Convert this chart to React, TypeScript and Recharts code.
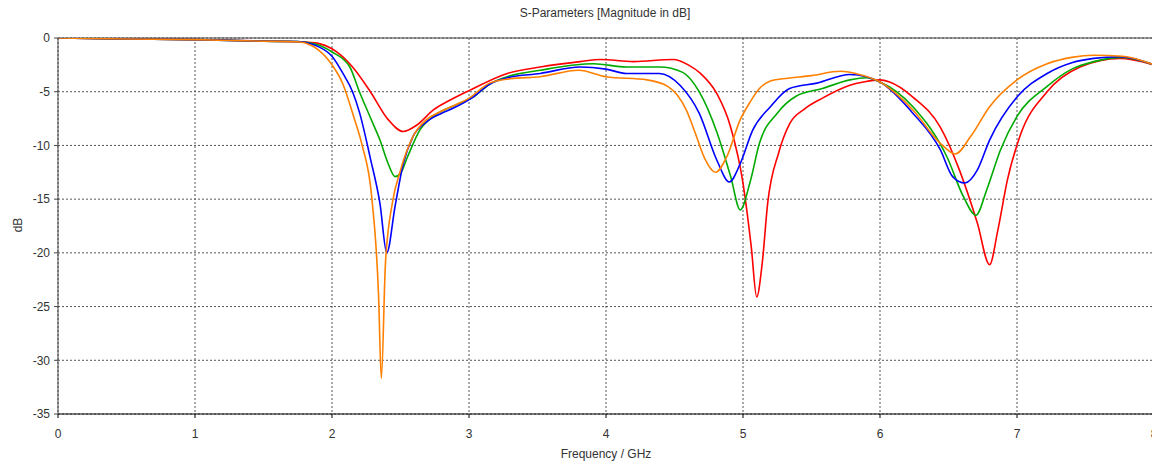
import React from "react";
import { LineChart, Line, XAxis, YAxis, CartesianGrid, ReferenceLine } from "recharts";

const xTicks = [0, 1, 2, 3, 4, 5, 6, 7, 8];
const yTicks = [0, -5, -10, -15, -20, -25, -30, -35];

const orangeF = [0, 0.5, 1.0, 1.5, 1.75, 1.85, 1.9, 2.0, 2.08, 2.16, 2.22, 2.29, 2.34, 2.36, 2.39, 2.44, 2.5, 2.59, 2.69, 2.8, 3.0, 3.15, 3.3, 3.52, 3.8, 4.0, 4.3, 4.45, 4.52, 4.59, 4.65, 4.72, 4.8, 4.88, 4.98, 5.05, 5.12, 5.2, 5.29, 5.5, 5.71, 5.85, 6.0, 6.24, 6.44, 6.55, 6.66, 6.8, 7.0, 7.22, 7.4, 7.56, 7.77, 8.0];
const orangeDb = [0, -0.1, -0.15, -0.3, -0.35, -0.7, -1.1, -2.5, -4.3, -7.4, -10.0, -14.8, -24, -31.7, -21, -15.4, -12.3, -9.2, -7.6, -6.8, -5.6, -4.2, -3.8, -3.6, -3.0, -3.6, -3.9, -4.5, -5.3, -6.8, -8.8, -11.2, -12.5, -11.1, -7.6, -6.0, -4.7, -4.0, -3.8, -3.5, -3.1, -3.4, -4.1, -6.7, -9.8, -10.8, -9.2, -6.4, -3.9, -2.4, -1.8, -1.6, -1.7, -2.5];

const blueF = [0, 0.5, 1.0, 1.5, 1.75, 1.85, 1.9, 2.0, 2.08, 2.15, 2.2, 2.28, 2.35, 2.4, 2.46, 2.52, 2.59, 2.69, 2.8, 2.89, 3.03, 3.15, 3.28, 3.52, 3.81, 4.0, 4.15, 4.39, 4.54, 4.68, 4.81, 4.9, 4.98, 5.07, 5.2, 5.34, 5.54, 5.78, 5.9, 6.0, 6.24, 6.44, 6.53, 6.62, 6.71, 6.8, 7.0, 7.22, 7.4, 7.56, 7.75, 8.0];
const blueDb = [0, -0.1, -0.15, -0.3, -0.33, -0.55, -0.8, -1.7, -3.3, -5.0, -6.9, -11.2, -15.4, -20.0, -15.7, -11.7, -9.2, -7.8, -7.0, -6.5, -5.5, -4.3, -3.7, -3.3, -2.7, -2.9, -3.3, -3.3, -4.4, -7.0, -11.4, -13.4, -11.7, -8.6, -6.4, -4.7, -4.2, -3.4, -3.6, -4.1, -7.0, -10.4, -12.9, -13.5, -12.3, -9.5, -5.5, -3.3, -2.3, -1.9, -1.75, -2.5];

const greenF = [0, 0.5, 1.0, 1.5, 1.75, 1.85, 1.9, 2.0, 2.13, 2.2, 2.28, 2.35, 2.41, 2.46, 2.5, 2.55, 2.64, 2.74, 2.91, 3.03, 3.15, 3.28, 3.52, 3.91, 4.15, 4.39, 4.56, 4.68, 4.81, 4.91, 4.98, 5.05, 5.12, 5.25, 5.39, 5.58, 5.78, 5.9, 6.0, 6.24, 6.49, 6.61, 6.7, 6.78, 6.88, 7.0, 7.22, 7.4, 7.56, 7.77, 8.0];
const greenDb = [0, -0.1, -0.15, -0.3, -0.33, -0.5, -0.65, -1.3, -2.7, -5.0, -7.4, -9.5, -11.7, -12.9, -12.6, -11.1, -8.6, -7.3, -6.2, -5.5, -4.3, -3.6, -3.0, -2.4, -2.7, -2.7, -3.2, -5.0, -8.8, -12.9, -16.0, -13.5, -9.8, -7.0, -5.4, -4.7, -3.9, -3.7, -4.1, -6.4, -11.1, -14.8, -16.5, -14.1, -10.4, -7.3, -4.5, -2.9, -2.2, -1.8, -2.5];

const redF = [0, 0.5, 1.0, 1.5, 1.77, 1.9, 2.0, 2.15, 2.28, 2.41, 2.52, 2.62, 2.74, 2.86, 3.0, 3.28, 3.52, 3.81, 3.96, 4.2, 4.49, 4.6, 4.69, 4.81, 4.91, 5.0, 5.06, 5.1, 5.14, 5.18, 5.26, 5.34, 5.45, 5.58, 5.78, 5.88, 6.0, 6.07, 6.24, 6.44, 6.58, 6.71, 6.8, 6.86, 6.93, 7.02, 7.22, 7.46, 7.75, 8.0];
const redDb = [0, -0.1, -0.15, -0.28, -0.35, -0.5, -1.0, -2.7, -5.0, -7.6, -8.7, -8.1, -6.7, -5.8, -4.9, -3.3, -2.7, -2.2, -2.0, -2.2, -2.0, -2.5, -3.3, -5.2, -8.3, -13.5, -19.4, -24.1, -21, -15.4, -10.7, -8.0, -6.6, -5.6, -4.4, -4.1, -3.9, -4.1, -5.5, -8.3, -12.3, -17.2, -21.1, -17.9, -13.2, -9.2, -5.0, -2.7, -1.9, -2.5];

const toPts = (fs: number[], ds: number[]) => fs.map((f, i) => ({ f, db: ds[i] }));

const series = [
  { name: "red", color: "#ff0000", data: toPts(redF, redDb) },
  { name: "green", color: "#00aa00", data: toPts(greenF, greenDb) },
  { name: "blue", color: "#0000ff", data: toPts(blueF, blueDb) },
  { name: "orange", color: "#ff8000", data: toPts(orangeF, orangeDb) },
];

const font = "'Liberation Sans', Arial, sans-serif";

export default function App() {
  return (
    <div style={{ position: "absolute", left: 0, top: 0, width: 1152, height: 466, overflow: "hidden", background: "#fff", fontFamily: font }}>
      <LineChart width={1170} height={466} margin={{ top: 38, right: 16, bottom: 22, left: 0 }}>
        <CartesianGrid stroke="#555" strokeDasharray="2 2" />
        <XAxis
          type="number"
          dataKey="f"
          domain={[0, 8]}
          ticks={xTicks}
          allowDataOverflow
          height={30}
          tickSize={4}
          tickMargin={11}
          stroke="#000"
          tick={{ fill: "#333", fontSize: 12, fontFamily: font }}
        />
        <YAxis
          type="number"
          domain={[-35, 0]}
          ticks={yTicks}
          allowDataOverflow
          width={58}
          tickSize={4}
          tickMargin={4}
          stroke="#444"
          tick={{ fill: "#333", fontSize: 12, fontFamily: font }}
        />
        <ReferenceLine y={0} stroke="#444" strokeWidth={1} />
        {series.map((s) => (
          <Line
            key={s.name}
            data={s.data}
            dataKey="db"
            type="monotone"
            stroke={s.color}
            strokeWidth={1.6}
            dot={false}
            isAnimationActive={false}
          />
        ))}
      </LineChart>
      <div style={{ position: "absolute", left: 0, width: 1210, top: 6, textAlign: "center", fontSize: 12, color: "#333" }}>
        S-Parameters [Magnitude in dB]
      </div>
      <div style={{ position: "absolute", left: 0, width: 1212, top: 447, textAlign: "center", fontSize: 12, color: "#333" }}>
        Frequency / GHz
      </div>
      <div style={{ position: "absolute", left: 11, top: 218, fontSize: 12, color: "#333", transform: "rotate(-90deg)", transformOrigin: "center" }}>
        dB
      </div>
    </div>
  );
}
